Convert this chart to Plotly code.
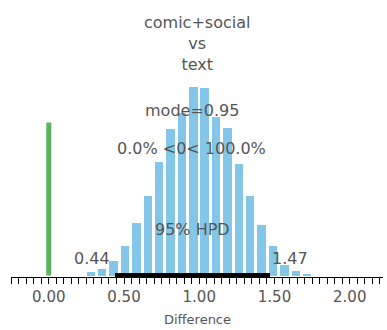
import plotly.graph_objects as go

# ---- data ----
bin_centers = [0.279 + i * 0.0757 for i in range(20)]
bin_width = 0.0757
density = [0.025, 0.057, 0.115, 0.238, 0.434, 0.648, 0.934, 1.197, 1.336, 1.549,
           1.533, 1.303, 1.213, 0.910, 0.648, 0.410, 0.238, 0.090, 0.041, 0.016]
mode_val = 0.95
hpd_low, hpd_high = 0.44, 1.47
comp_val = 0.0
comp_height = 1.254
pct_below, pct_above = 0.0, 100.0
title_lines = ["comic+social", "vs", "text"]
major_ticks = [0.0, 0.5, 1.0, 1.5, 2.0]
major_labels = ["0.00", "0.50", "1.00", "1.50", "2.00"]
x_label = "Difference"

FONT = "DejaVu Sans"
TXT = "#555555"
px_per_unit = 122.0

fig = go.Figure()
fig.add_trace(go.Bar(
    x=bin_centers, y=density, width=bin_width * 0.74,
    marker=dict(color="#84C6E8", line=dict(width=0)),
    hoverinfo="skip", showlegend=False))
# comparison value line
fig.add_trace(go.Scatter(
    x=[comp_val, comp_val], y=[0, comp_height], mode="lines",
    line=dict(color="#5DB35D", width=5), hoverinfo="skip", showlegend=False))
# HPD bar
fig.add_trace(go.Scatter(
    x=[hpd_low, hpd_high], y=[0, 0], mode="lines",
    line=dict(color="black", width=5), hoverinfo="skip", showlegend=False))

ann_font = dict(family=FONT, size=16, color=TXT)
# title (three lines)
fig.add_annotation(x=0.5, xref="paper", y=1, yref="paper", yshift=-11,
                   text="<br>".join(title_lines), showarrow=False,
                   font=dict(family=FONT, size=16, color=TXT),
                   xanchor="center", yanchor="top", align="center")
fig.add_annotation(x=mode_val, y=1.352, text=f"mode={mode_val:.2f}",
                   showarrow=False, font=ann_font, xanchor="center", yanchor="middle")
fig.add_annotation(x=mode_val, y=1.041,
                   text=f"{pct_below:.1f}% &lt;{comp_val:g}&lt; {pct_above:.1f}%",
                   showarrow=False, font=ann_font, xanchor="center", yanchor="middle")
fig.add_annotation(x=(hpd_low + hpd_high) / 2, y=0.377, text="95% HPD",
                   showarrow=False, font=ann_font, xanchor="center", yanchor="middle")
fig.add_annotation(x=hpd_low, y=0.139, text=f"{hpd_low:.2f}", showarrow=False,
                   font=ann_font, xanchor="right", yanchor="middle", xshift=-3)
fig.add_annotation(x=hpd_high, y=0.139, text=f"{hpd_high:.2f}", showarrow=False,
                   font=ann_font, xanchor="left", yanchor="middle")
fig.add_annotation(x=0.5, xref="paper", y=0, yref="paper", yshift=-42,
                   text=x_label, showarrow=False,
                   font=dict(family=FONT, size=13, color=TXT),
                   xanchor="center", yanchor="middle")

fig.update_layout(
    width=387, height=330,
    margin=dict(l=11, r=4, t=0, b=53),
    paper_bgcolor="white", plot_bgcolor="white",
    bargap=0,
    xaxis=dict(range=[-0.251, 2.221], showgrid=False, zeroline=False,
               showline=True, linecolor="black", linewidth=1,
               tickmode="array", tickvals=major_ticks, ticktext=major_labels,
               ticks="outside", ticklen=6, tickcolor="black", tickwidth=1,
               tickfont=dict(family=FONT, size=15, color=TXT),
               minor=dict(dtick=0.05, tick0=0, ticks="outside", ticklen=6,
                          tickcolor="black", tickwidth=1, showgrid=False)),
    yaxis=dict(range=[-1.5 / px_per_unit, 275.5 / px_per_unit], visible=False,
               showgrid=False, zeroline=False),
)

fig.write_html("out.html", config={"displayModeBar": False},
               post_script="document.body.style.margin='0';document.body.style.overflow='hidden';")
